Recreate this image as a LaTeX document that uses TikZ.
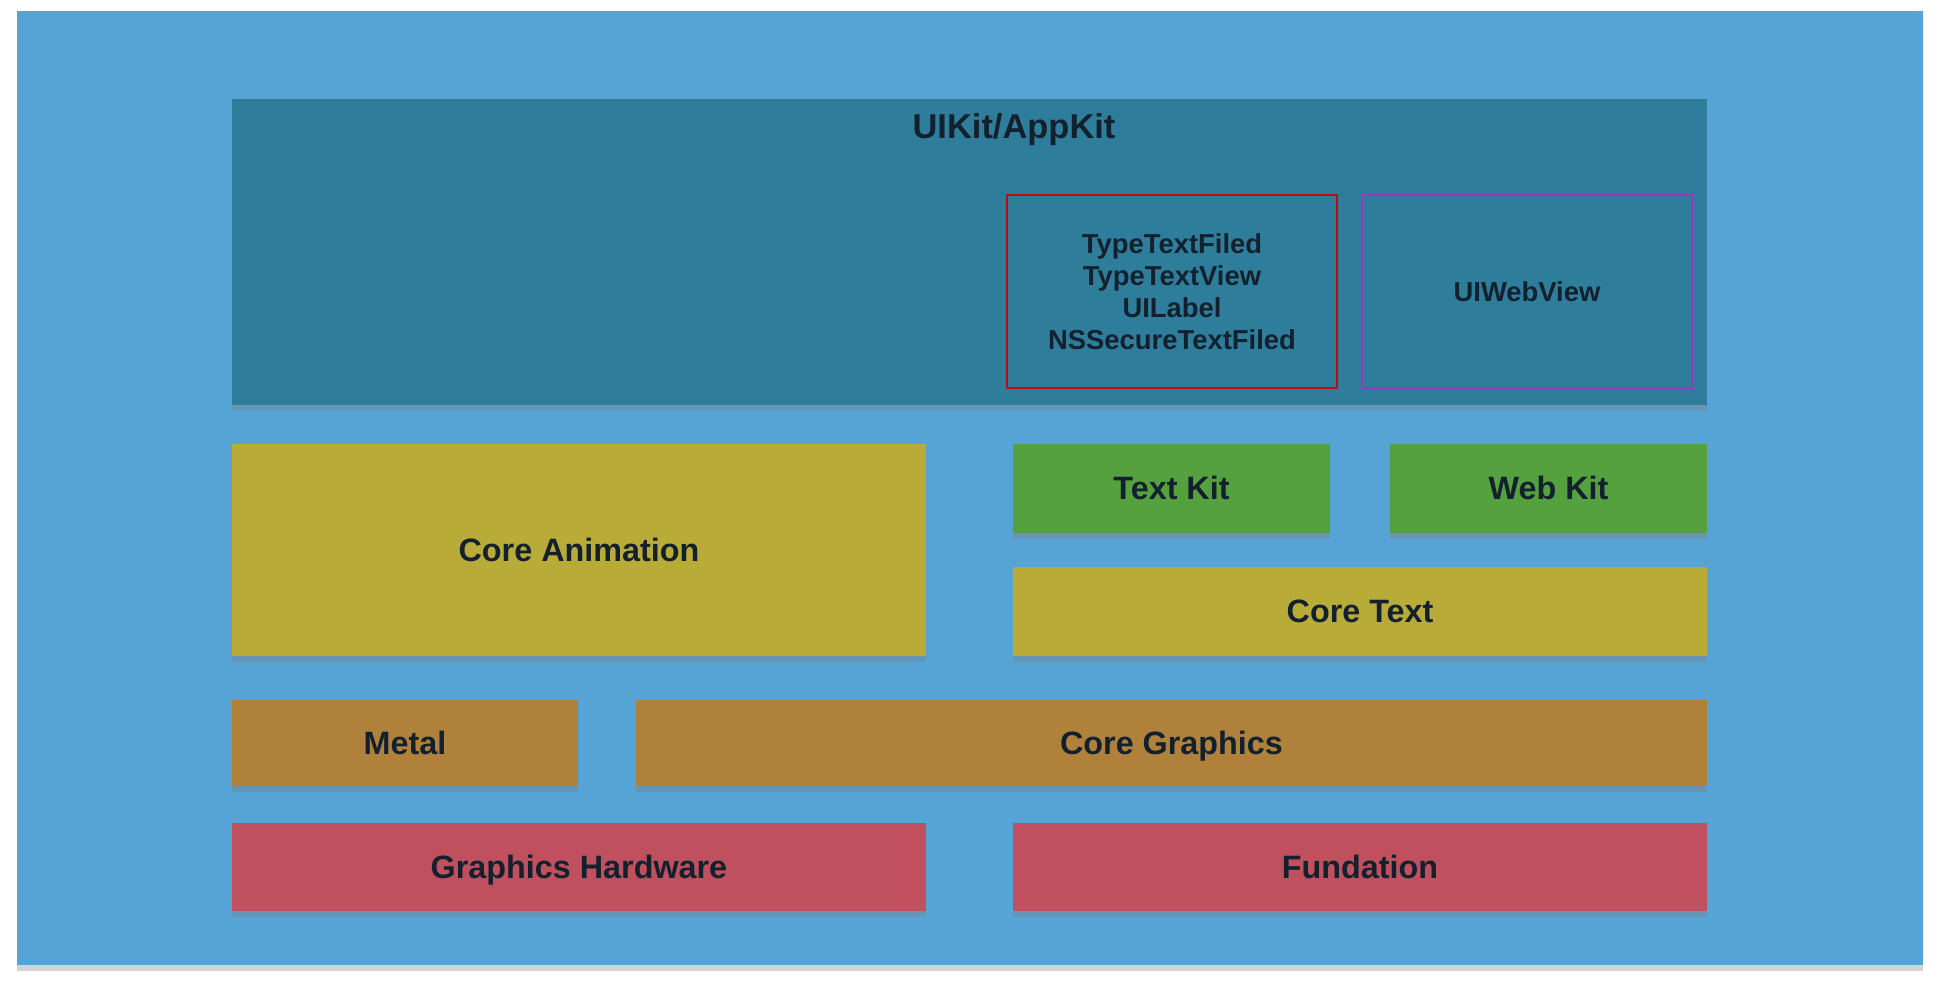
\documentclass[tikz,border=0pt]{standalone}
\usepackage{fontspec}
\setmainfont{Liberation Sans}
\usetikzlibrary{shadows}

\definecolor{bgblue}{HTML}{56A3D6}
\definecolor{kitblue}{HTML}{2E7E9B}
\definecolor{layyellow}{HTML}{B8AB37}
\definecolor{laygreen}{HTML}{55A13F}
\definecolor{layorange}{HTML}{B0813B}
\definecolor{layred}{HTML}{C0505D}
\definecolor{inkdark}{HTML}{13202E}
\definecolor{boxred}{HTML}{C00A12}
\definecolor{boxpurple}{HTML}{9B35C2}

\begin{document}
\begin{tikzpicture}
    \tikzstyle{every node}+=[inner sep=0pt, text=inkdark, font=\fontsize{9.2}{11}\selectfont\bfseries]
    \tikzstyle{layer}=[rectangle, text height=1.55ex, text depth=0.35ex, drop shadow={shadow xshift=0pt, shadow yshift=-0.06cm, opacity=0.35}]
    \tikzstyle{group}=[rectangle, draw, line width=0.6pt, align=center, font=\fontsize{7.8}{9.1}\selectfont\bfseries]
    \useasboundingbox (0,0) rectangle (19.38,-10.04);
    \node [layer, fill=bgblue, minimum width=19.06cm, minimum height=9.54cm] (back) at (9.70,-4.88) {};
    \node [layer, fill=kitblue, minimum width=14.75cm, minimum height=3.06cm] (uikit) at (9.695,-2.52) {};
    \node (uititle) at (10.14,-1.30) {\fontsize{9.8}{11}\selectfont UIKit/AppKit};
    \node [group, boxred, text=inkdark, minimum width=3.30cm, minimum height=1.93cm] (textviews) at (11.72,-2.915) {TypeTextFiled\\TypeTextView\\UILabel\\NSSecureTextFiled};
    \node [group, boxpurple, text=inkdark, minimum width=3.30cm, minimum height=1.93cm] (webview) at (15.27,-2.915) {UIWebView};
    \node [layer, fill=layyellow, minimum width=6.94cm, minimum height=2.12cm] (anim) at (5.79,-5.50) {Core Animation};
    \node [layer, fill=laygreen, minimum width=3.17cm, minimum height=0.89cm] (textkit) at (11.715,-4.885) {Text Kit};
    \node [layer, fill=laygreen, minimum width=3.17cm, minimum height=0.89cm] (webkit) at (15.485,-4.885) {Web Kit};
    \node [layer, fill=layyellow, minimum width=6.94cm, minimum height=0.89cm] (coretext) at (13.60,-6.115) {Core Text};
    \node [layer, fill=layorange, minimum width=3.46cm, minimum height=0.86cm] (metal) at (4.05,-7.43) {Metal};
    \node [layer, fill=layorange, minimum width=10.71cm, minimum height=0.86cm] (graphics) at (11.715,-7.43) {Core Graphics};
    \node [layer, fill=layred, minimum width=6.94cm, minimum height=0.88cm] (hardware) at (5.79,-8.67) {Graphics Hardware};
    \node [layer, fill=layred, minimum width=6.94cm, minimum height=0.88cm] (fundation) at (13.60,-8.67) {Fundation};
\end{tikzpicture}
\end{document}
